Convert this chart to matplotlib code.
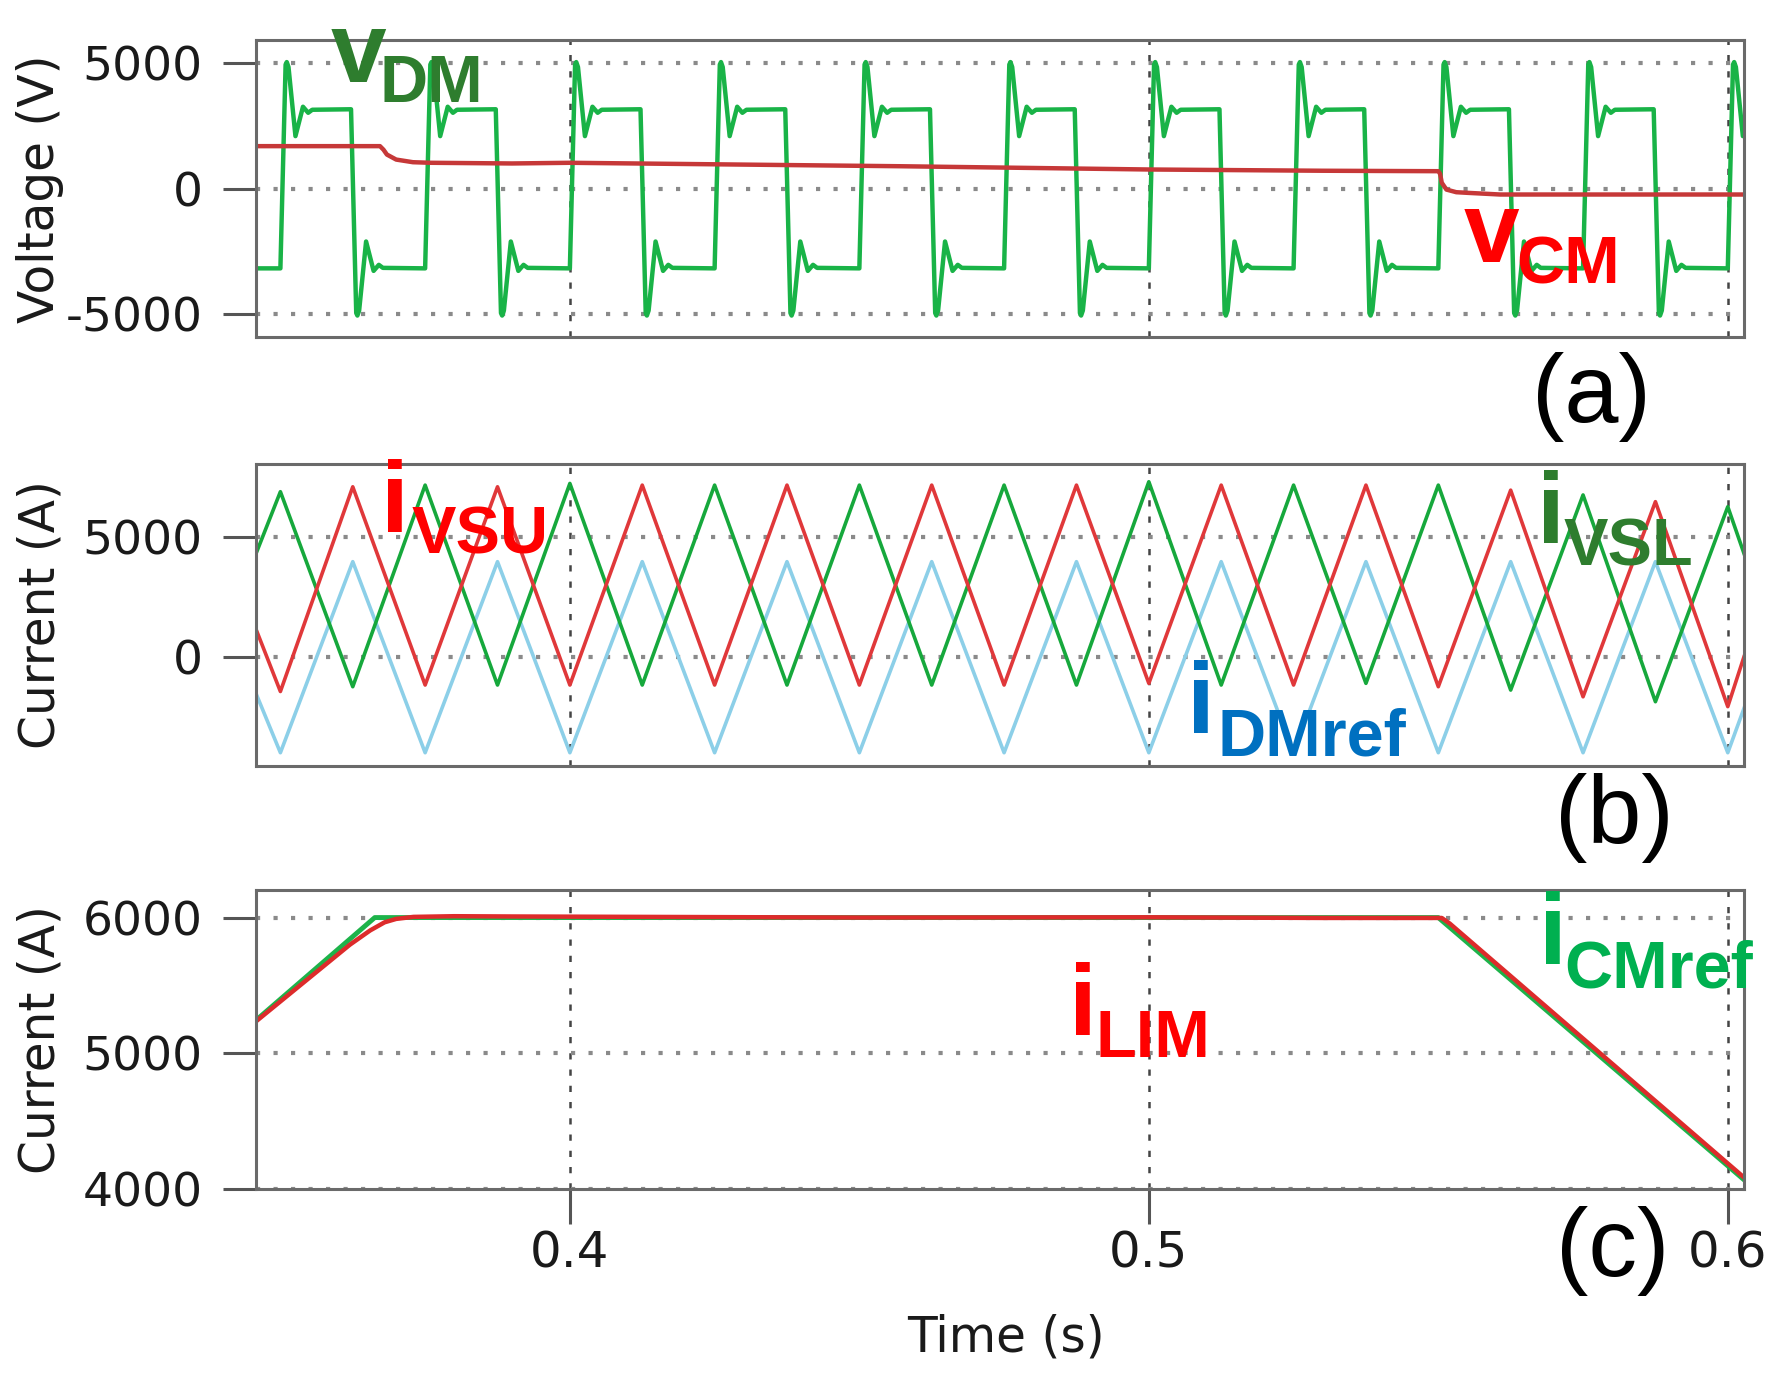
import matplotlib
matplotlib.use("Agg")
import matplotlib.pyplot as plt

plt.rcParams["axes.unicode_minus"] = False

# ---- data ----
# (a) differential-mode voltage: square wave with ringing after every edge
vdm_rise_t = [0.3500, 0.3750, 0.4000, 0.4250, 0.4500, 0.4750, 0.5000, 0.5250, 0.5500, 0.5750, 0.6000]
vdm_fall_t = [0.3622, 0.3872, 0.4122, 0.4372, 0.4622, 0.4872, 0.5122, 0.5372, 0.5622, 0.5872]
ring_dt = [0.0, 0.0009, 0.0011, 0.0014, 0.0026, 0.0039, 0.0048, 0.0055]
ring_v = [-3170, 4950, 5050, 4850, 2100, 3270, 3030, 3150]

# (a) common-mode voltage
vcm_t = [0.3457, 0.3672, 0.3678, 0.3684, 0.3700, 0.3729, 0.3760, 0.3900, 0.4000, 0.4570,
         0.5000, 0.5300, 0.5500, 0.5503, 0.5506, 0.5514, 0.5531, 0.5550, 0.5607, 0.6028]
vcm_v = [1700, 1700, 1560, 1364, 1165, 1060, 1037, 1010, 1037, 900,
         770, 720, 702, 600, 240, -30, -135, -160, -227, -227]

# (b) arm currents, peaks/troughs every half period
ib_t = [0.3457, 0.3500, 0.3625, 0.3750, 0.3875, 0.4000, 0.4125, 0.4250, 0.4375, 0.4500, 0.4625,
        0.4750, 0.4875, 0.5000, 0.5125, 0.5250, 0.5375, 0.5500, 0.5625, 0.5750, 0.5875, 0.6000, 0.6028]
i_vsu = [1200, -1450, 7080, -1180, 7080, -1180, 7150, -1180, 7150, -1180, 7150,
         -1180, 7150, -1110, 7150, -1180, 7150, -1250, 6940, -1670, 6460, -2080, 0]
i_vsl = [4240, 6875, -1250, 7150, -1180, 7220, -1180, 7150, -1180, 7150, -1180,
         7150, -1180, 7290, -1180, 7150, -1110, 7150, -1390, 6740, -1875, 6250, 4300]
i_dmref = [-1480, -4000, 3960, -4000, 3960, -4000, 3960, -4000, 3960, -4000, 3960,
           -4000, 3960, -4000, 3960, -4000, 3960, -4000, 3960, -4000, 3960, -4000, -2150]

# (c) common-mode current reference and limited current
icm_t = [0.3457, 0.3663, 0.5500, 0.6028]
icm_v = [5240, 6000, 6000, 4068]
ilim_t = [0.3457, 0.3620, 0.3655, 0.3680, 0.3700, 0.3730, 0.3800, 0.3900, 0.4500,
          0.5000, 0.5300, 0.5506, 0.5520, 0.6028]
ilim_v = [5232, 5800, 5905, 5965, 5990, 6005, 6010, 6008, 6000,
          6002, 5997, 5997, 5955, 4085]

xticks = [0.4, 0.5, 0.6]
xlim = (0.3457, 0.6028)

# build the v_DM trace from the edge list and the ringing shape
edges = sorted([(t, 1) for t in vdm_rise_t] + [(t, -1) for t in vdm_fall_t])
vdm_t = [xlim[0]]
vdm_v = [-3170]
for te, s in edges:
    for dt, v in zip(ring_dt, ring_v):
        vdm_t.append(te + dt)
        vdm_v.append(s * v)

W, H = 1784, 1376
fig = plt.figure(figsize=(W / 100, H / 100), dpi=100)
fig.patch.set_facecolor("white")

LEFT, RIGHT = 255.5, 1744


def make_axes(top, bottom):
    ax = fig.add_axes([LEFT / W, 1 - bottom / H, (RIGHT - LEFT) / W, (bottom - top) / H])
    for sp in ax.spines.values():
        sp.set_color("#6a6a6a")
        sp.set_linewidth(2.2)
    ax.set_xlim(*xlim)
    ax.set_xticks(xticks)
    ax.grid(axis="y", color="#8a8a8a", linestyle=(0, (1, 3.2)), linewidth=3)
    ax.grid(axis="x", color="#444444", linestyle=(0, (2.5, 4)), linewidth=1.8)
    ax.tick_params(axis="y", length=24, width=2.2, pad=14, color="#555555",
                   labelsize=34, labelcolor="#1a1a1a")
    ax.tick_params(axis="x", length=25, width=2.2, pad=4, color="#555555",
                   labelsize=36, labelcolor="#1a1a1a")
    return ax


ax_a = make_axes(40, 337)
ax_b = make_axes(464, 766)
ax_c = make_axes(890, 1189)

# (a)
ax_a.plot(vdm_t, vdm_v, color="#19b347", lw=3.2)
ax_a.plot(vcm_t, vcm_v, color="#c63838", lw=3.2)
ax_a.set_ylim(-5905, 5930)
ax_a.set_yticks([-5000, 0, 5000])
ax_a.tick_params(axis="x", length=0, labelbottom=False)

# (b)
ax_b.plot(ib_t, i_dmref, color="#8ccfe8", lw=2.6)
ax_b.plot(ib_t, i_vsl, color="#16a83c", lw=2.6)
ax_b.plot(ib_t, i_vsu, color="#e0383a", lw=2.6)
ax_b.set_ylim(-4554, 8030)
ax_b.set_yticks([0, 5000])
ax_b.tick_params(axis="x", length=0, labelbottom=False)

# (c)
ax_c.plot(icm_t, icm_v, color="#1db34a", lw=3.5)
ax_c.plot(ilim_t, ilim_v, color="#dd2b2b", lw=3.2)
ax_c.set_ylim(4000, 6203)
ax_c.set_yticks([4000, 5000, 6000])
ax_c.set_xticklabels(["0.4", "0.5", "0.6"])

for ax, lab in [(ax_a, "Voltage (V)"), (ax_b, "Current (A)"), (ax_c, "Current (A)")]:
    ax.set_ylabel(lab, fontsize=35, color="#1a1a1a", va="center")
    ax.yaxis.set_label_coords((40 - LEFT) / (RIGHT - LEFT), 0.5)
ax_c.set_xlabel("Time (s)", fontsize=35, color="#1a1a1a", va="center")
ax_c.xaxis.set_label_coords((1006 - LEFT) / (RIGHT - LEFT), (1189 - 1338) / (1189 - 890))


def sub_label(x0, y0, x1, y1, main, sub, color):
    fig.text(x0 / W, 1 - y0 / H, main, fontsize=72, fontweight="bold",
             family="Liberation Sans", color=color, ha="left", va="baseline")
    fig.text(x1 / W, 1 - y1 / H, sub, fontsize=48, fontweight="bold",
             family="Liberation Sans", color=color, ha="left", va="baseline")


sub_label(331, 82, 379, 102, "v", "DM", "#2e7d2e")
sub_label(1464, 262, 1516, 283, "v", "CM", "#ff0000")
sub_label(381, 532, 412, 553, "i", "VSU", "#ff0000")
sub_label(1537, 543, 1564, 565, "i", "VSL", "#2e7d2e")
sub_label(1187, 733, 1217, 755, "i", "DMref", "#0070c0")
sub_label(1069, 1035, 1096, 1057, "i", "LIM", "#ff0000")
sub_label(1539, 964, 1564, 987, "i", "CMref", "#00b050")

for cx, cy, s in [(1591, 397, "(a)"), (1614, 818, "(b)"), (1613, 1251, "(c)")]:
    fig.text(cx / W, 1 - cy / H, s, fontsize=70, family="Liberation Sans",
             color="black", ha="center", va="center")

fig.savefig("out.png", dpi=100)
